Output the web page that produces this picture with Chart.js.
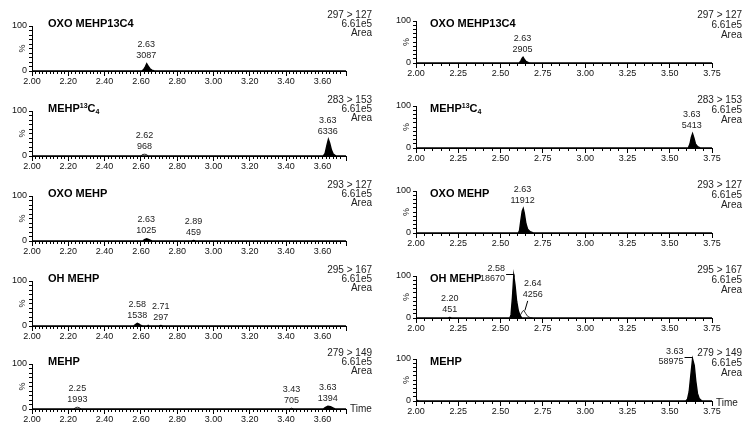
<!DOCTYPE html>
<html>
<head>
<meta charset="utf-8">
<script src="https://cdn.jsdelivr.net/npm/chart.js@4.4.0/dist/chart.umd.min.js"></script>
<style>
  body { margin: 0; background: #fff; width: 746px; height: 426px; overflow: hidden; position: relative; }
  canvas { position: absolute; }
</style>
</head>
<body>
<script>
// compound names and MRM transitions, one per row
const titles = ['OXO MEHP13C4', 'MEHP^13C_4', 'OXO MEHP', 'OH MEHP', 'MEHP'];
const transitions = ['297 > 127', '283 > 153', '293 > 127', '295 > 167', '279 > 149'];
const intensity = '6.61e5';

// left column traces: [retention time, % intensity]
const leftTrace = [
  [[2.00,0],[2.605,0],[2.615,3],[2.625,10],[2.632,16],[2.64,11],[2.65,5],[2.66,2],[2.675,0],[3.73,0]],
  [[2.00,0],[3.605,0],[3.615,6],[3.625,24],[3.633,37],[3.64,29],[3.65,13],[3.66,4],[3.675,0],[3.73,0]],
  [[2.00,0],[2.61,0],[2.62,3],[2.632,5],[2.645,3],[2.66,0],[2.88,0],[2.89,1],[2.90,0],[3.73,0]],
  [[2.00,0],[2.56,0],[2.57,3],[2.58,6],[2.59,4],[2.60,1],[2.61,0],[2.635,0],[2.64,1.5],[2.645,0],[2.70,0],[2.71,1],[2.72,0],[3.73,0]],
  [[2.00,0],[3.605,0],[3.615,3],[3.63,6],[3.645,5],[3.66,2],[3.67,0],[3.73,0]]
];
// left column peaks drawn as outlines only
const leftHollow = [
  [],
  [[[2.60,0],[2.607,3],[2.62,4],[2.632,3],[2.64,0]]],
  [],
  [],
  [[[2.23,0],[2.24,3],[2.25,4],[2.26,3],[2.27,0]], [[3.42,0],[3.43,2],[3.44,0]]]
];
const leftPeaks = [
  [{x:2.63, y:16, t:'2.63', a:'3087'}],
  [{x:2.62, y:4, t:'2.62', a:'968'}, {x:3.63, y:37, t:'3.63', a:'6336'}],
  [{x:2.63, y:5, t:'2.63', a:'1025'}, {x:2.89, y:1, t:'2.89', a:'459'}],
  [{x:2.58, y:6, t:'2.58', a:'1538'}, {x:2.71, y:1, t:'2.71', a:'297'}],
  [{x:2.25, y:4, t:'2.25', a:'1993'}, {x:3.43, y:2, t:'3.43', a:'705'}, {x:3.63, y:6, t:'3.63', a:'1394'}]
];

// right column traces
const rightTrace = [
  [[2.00,0],[2.61,0],[2.62,5],[2.627,11],[2.633,14],[2.64,9],[2.65,4],[2.665,1],[2.68,0],[3.75,0]],
  [[2.00,0],[3.61,0],[3.62,10],[3.628,26],[3.635,34],[3.643,24],[3.652,10],[3.665,3],[3.68,0],[3.75,0]],
  [[2.00,0],[2.605,0],[2.612,6],[2.62,30],[2.628,52],[2.634,58],[2.64,48],[2.65,22],[2.66,9],[2.675,3],[2.69,1],[2.70,0],[3.75,0]],
  [[2.00,0],[2.19,0],[2.20,1],[2.21,0],[2.555,0],[2.562,8],[2.57,48],[2.578,100],[2.585,80],[2.595,40],[2.605,17],[2.615,6],[2.625,0],[3.75,0]],
  [[2.00,1.5],[2.01,1.5],[2.015,0],[3.595,0],[3.605,4],[3.615,22],[3.625,62],[3.635,100],[3.645,85],[3.654,48],[3.664,18],[3.674,6],[3.687,1],[3.70,0],[3.75,0]]
];
const rightHollow = [
  [],
  [],
  [],
  [[[2.61,4],[2.62,9],[2.63,16],[2.638,18],[2.648,11],[2.66,4],[2.675,1],[2.69,0]]],
  []
];
const rightPeaks = [
  [{x:2.63, y:14, t:'2.63', a:'2905'}],
  [{x:3.63, y:34, t:'3.63', a:'5413'}],
  [{x:2.63, y:58, t:'2.63', a:'11912'}],
  [{x:2.58, y:100, t:'2.58', a:'18670'}, {x:2.638, y:18, t:'2.64', a:'4256', lx:2.69, ly:55}, {x:2.20, y:1, t:'2.20', a:'451'}],
  [{x:3.635, y:100, t:'3.63', a:'58975'}]
];

const FONT = "'Liberation Sans', Arial, sans-serif";
const rowTop = [0, 85, 170, 255, 338];

const columns = [
  {trace: leftTrace, hollow: leftHollow, peaks: leftPeaks, max: 3.73, step: 0.02, every: 0.2,
   x0: 0, left: 32, right: 346, top: 26, bottom: 71, titleX: 48, infoX: 372, infoGap: 9, timeDy: 0},
  {trace: rightTrace, hollow: rightHollow, peaks: rightPeaks, max: 3.75, step: 0.05, every: 0.25,
   x0: 373, left: 43, right: 339, top: 21, bottom: 63, titleX: 57, infoX: 369, infoGap: 10, timeDy: 2}
];

function drawRich(ctx, s, x, y) {
  ctx.textAlign = 'left';
  ctx.textBaseline = 'middle';
  ctx.fillStyle = '#000';
  s.match(/\^\d+|_\d+|[^^_]+/g).forEach(p => {
    let size = 11, dy = 0, txt = p;
    if (p[0] === '^') { size = 7; dy = -3; txt = p.slice(1); }
    else if (p[0] === '_') { size = 7; dy = 3; txt = p.slice(1); }
    ctx.font = 'bold ' + size + 'px ' + FONT;
    ctx.fillText(txt, x, y + dy);
    x += ctx.measureText(txt).width;
  });
}

function labelPlugin(col, r) {
  return {
    id: 'peakLabels',
    afterDatasetsDraw(chart) {
      const {ctx, chartArea: a, scales: {x, y}} = chart;
      ctx.save();
      drawRich(ctx, titles[r], col.titleX, 24);

      ctx.font = '10px ' + FONT;
      ctx.fillStyle = '#222';
      ctx.textAlign = 'right';
      [transitions[r], intensity, 'Area'].forEach((s, i) => ctx.fillText(s, col.infoX, 15 + col.infoGap * i));

      ctx.save();
      ctx.translate(a.left - 9, (a.top + a.bottom) / 2);
      ctx.rotate(-Math.PI / 2);
      ctx.textAlign = 'center';
      ctx.font = '9px ' + FONT;
      ctx.fillText('%', 0, 0);
      ctx.restore();

      ctx.font = '9px ' + FONT;
      ctx.strokeStyle = '#000';
      ctx.lineWidth = 1;
      col.peaks[r].forEach(p => {
        const px = x.getPixelForValue(p.x), py = y.getPixelForValue(p.y);
        if (p.y >= 90) {
          ctx.textAlign = 'right';
          ctx.fillText(p.t, px - 9, py - 7);
          ctx.fillText(p.a, px - 9, py + 3);
          ctx.beginPath();
          ctx.moveTo(px - 8, py - 1.5); ctx.lineTo(px, py - 1.5); ctx.lineTo(px, py + 1.5);
          ctx.stroke();
        } else if (p.lx !== undefined) {
          const lx = x.getPixelForValue(p.lx), ly = y.getPixelForValue(p.ly);
          ctx.textAlign = 'center';
          ctx.fillText(p.t, lx, ly - 11);
          ctx.fillText(p.a, lx, ly);
          ctx.beginPath();
          ctx.moveTo(lx - 5, ly + 6); ctx.lineTo(px + 1, py);
          ctx.stroke();
        } else {
          ctx.textAlign = 'center';
          ctx.fillText(p.t, px, py - 19);
          ctx.fillText(p.a, px, py - 8);
        }
      });

      if (r === 4) {
        ctx.textAlign = 'left';
        ctx.font = '10px ' + FONT;
        ctx.fillText('Time', a.right + 4, a.bottom + col.timeDy);
      }
      ctx.restore();
    }
  };
}

function toXY(pts) {
  return pts.map(p => ({x: p[0], y: p[1]}));
}

function makeChart(col, r) {
  const c = document.createElement('canvas');
  c.width = 373;
  c.height = 90;
  c.style.left = col.x0 + 'px';
  c.style.top = rowTop[r] + 'px';
  document.body.appendChild(c);

  const datasets = [{
    data: toXY(col.trace[r]),
    borderColor: '#000', backgroundColor: '#000', borderWidth: 1.4,
    fill: 'origin', pointRadius: 0, tension: 0, clip: false
  }];
  col.hollow[r].forEach(seg => datasets.push({
    data: toXY(seg),
    borderColor: '#000', borderWidth: 0.8,
    fill: false, pointRadius: 0, tension: 0, clip: false
  }));

  new Chart(c, {
    type: 'line',
    data: {datasets: datasets},
    options: {
      responsive: false,
      animation: false,
      devicePixelRatio: 1,
      layout: {padding: {top: col.top, right: 373 - col.right, left: 0, bottom: 0}},
      plugins: {legend: {display: false}, tooltip: {enabled: false}},
      scales: {
        x: {
          type: 'linear', min: 2, max: col.max,
          afterFit: s => { s.height = 90 - col.bottom; },
          border: {color: '#000', width: 1},
          grid: {drawOnChartArea: false, color: '#000', tickLength: 3},
          ticks: {
            stepSize: col.step, autoSkip: false, maxRotation: 0, padding: 2,
            color: '#111', font: {family: FONT, size: 9},
            callback: v => {
              const k = v / col.every;
              return Math.abs(k - Math.round(k)) < 1e-6 ? v.toFixed(2) : '';
            }
          }
        },
        // longer marks at the labelled times
        xMajor: {
          type: 'linear', axis: 'x', position: 'bottom', weight: -1, min: 2, max: col.max,
          afterFit: s => { s.height = 0; },
          border: {display: false},
          grid: {drawOnChartArea: false, color: '#000', tickLength: 5},
          ticks: {stepSize: col.every, autoSkip: false, maxRotation: 0, callback: () => ''}
        },
        y: {
          min: 0, max: 100,
          afterFit: s => { s.width = col.left; },
          border: {color: '#000', width: 1},
          grid: {drawOnChartArea: false, color: '#000', tickLength: 3},
          ticks: {
            stepSize: 10, autoSkip: false, padding: 2, color: '#111', font: {family: FONT, size: 9},
            callback: v => (v === 0 || v === 100) ? String(v) : ''
          }
        }
      }
    },
    plugins: [labelPlugin(col, r)]
  });
}

columns.forEach(col => {
  for (let r = 0; r < 5; r++) makeChart(col, r);
});
</script>
</body>
</html>
